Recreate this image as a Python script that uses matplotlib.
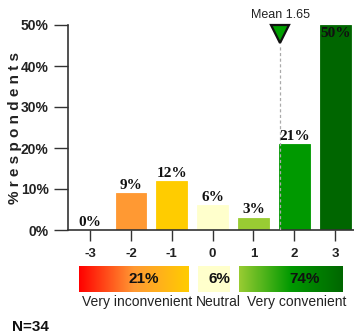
import matplotlib
matplotlib.use("Agg")
import matplotlib.pyplot as plt
import numpy as np
from matplotlib.colors import LinearSegmentedColormap

# Survey answers on a -3..3 scale
scores = [-3, -2, -1, 0, 1, 2, 3]
percent = [0, 9, 12, 6, 3, 21, 50]
bar_colors = ["#FF0000", "#FF9933", "#FFCC00", "#FFFFCC", "#99CC33", "#009900", "#006600"]
mean_score = 1.65
n_resp = 34

# Grouped summary
group_labels = ["Very inconvenient", "Neutral", "Very convenient"]
group_percent = [sum(percent[0:3]), percent[3], sum(percent[4:7])]
y_ticks = [0, 10, 20, 30, 40, 50]

W, H = 354, 336
fig = plt.figure(figsize=(W / 100, H / 100), dpi=100)
fig.patch.set_facecolor("white")

ax = fig.add_axes([68 / W, 1 - 230 / H, (354 - 68) / W, 205 / H])
ax.set_xlim(-3.54, 3.46)
ax.set_ylim(0, 50)

for s, p, c in zip(scores, percent, bar_colors):
    ax.bar(s, p, width=0.75, color=c, edgecolor=c, linewidth=0.6, zorder=2)
    if p >= 45:
        ax.text(s, p - 0.5, f"{p}%", ha="center", va="top", fontsize=11,
                fontweight="bold", family="Liberation Serif", color="#111111", zorder=4)
    else:
        ax.text(s, p + 0.3, f"{p}%", ha="center", va="bottom", fontsize=11,
                fontweight="bold", family="Liberation Serif", color="#111111", zorder=4)

# Mean marker
ax.plot([mean_score, mean_score], [0, 45], ls=(0, (2.5, 2)), color="#AAAAAA", lw=0.9, zorder=3)
ax.plot([mean_score], [47.8], marker="v", markersize=13, markerfacecolor="#00A000",
        markeredgecolor="#111111", markeredgewidth=1.6, clip_on=False, zorder=5)
ax.text(mean_score, 51.0, f"Mean {mean_score}", ha="center", va="bottom", fontsize=9,
        family="Liberation Sans", color="#222222", clip_on=False)

for side in ["top", "right"]:
    ax.spines[side].set_visible(False)
ax.spines["left"].set_color("#333333")
ax.spines["bottom"].set_color("#333333")
ax.spines["left"].set_linewidth(1.2)
ax.spines["bottom"].set_linewidth(1.2)

ax.set_yticks(y_ticks)
ax.set_yticklabels([f"{t}%" for t in y_ticks], fontsize=10, fontweight="bold",
                   family="Liberation Sans", color="#222222")
ax.tick_params(axis="y", direction="out", length=10, width=1.0, color="#333333", pad=4)
ax.set_xticks(scores)
ax.set_xticklabels([str(s) for s in scores], fontsize=9.5, fontweight="bold",
                   family="Liberation Sans", color="#222222")
ax.tick_params(axis="x", direction="out", length=8, width=1.0, color="#333333", pad=5)

fig.text(15 / W, 1 - 128 / H, "% r e s p o n d e n t s", rotation=90, ha="center", va="center",
         fontsize=11, fontweight="bold", family="Liberation Sans", color="#222222")

# Summary boxes with gradients
def grad_box(x0, x1, y0, y1, colors):
    bax = fig.add_axes([x0 / W, 1 - y1 / H, (x1 - x0) / W, (y1 - y0) / H])
    cmap = LinearSegmentedColormap.from_list("g", colors)
    bax.imshow(np.linspace(0, 1, 256)[None, :], aspect="auto", cmap=cmap,
               extent=[0, 1, 0, 1])
    bax.set_xlim(0, 1)
    bax.set_ylim(0, 1)
    bax.axis("off")
    return bax

boxes = [
    (79, 189, ["#FF0000", "#FF9933", "#FFCC00"], 0.59),
    (198, 230, ["#FFFFCC", "#FFFFCC"], 0.68),
    (239, 343, ["#99CC33", "#009900", "#006600"], 0.63),
]
for (x0, x1, cols, tx), gp in zip(boxes, group_percent):
    bax = grad_box(x0, x1, 266, 292, cols)
    bax.text(tx, 0.5, f"{gp}%", ha="center", va="center", fontsize=11,
             fontweight="bold", family="Liberation Sans", color="#111111")

label_x = [137, 218, 297]
for lx, lab in zip(label_x, group_labels):
    fig.text(lx / W, 1 - 302 / H, lab, ha="center", va="center", fontsize=10,
             family="Liberation Sans", color="#222222")

fig.text(12 / W, 1 - 327 / H, f"N={n_resp}", ha="left", va="center", fontsize=11,
         fontweight="bold", family="Liberation Sans", color="#111111")

fig.savefig("out.png", dpi=100, facecolor="white")
